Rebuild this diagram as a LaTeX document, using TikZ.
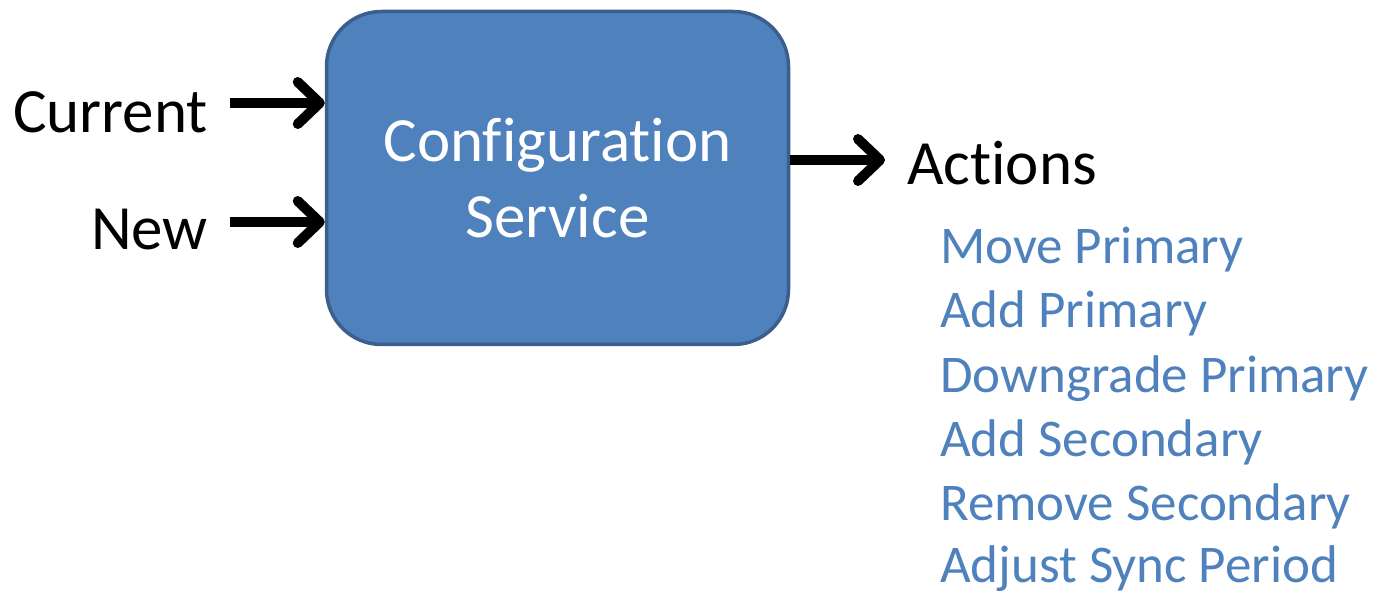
\documentclass[tikz,border=0pt]{standalone}
\usepackage{fontspec}
\setmainfont{Carlito}[Ligatures=NoCommon]
\usetikzlibrary{arrows.meta}
\definecolor{boxfill}{HTML}{4F81BD}
\definecolor{boxline}{HTML}{3A5F8C}
\definecolor{actblue}{HTML}{4F81BD}
\tikzset{
  svcbox/.style={draw=boxline, line width=3.5pt, fill=boxfill, rounded corners=55pt,
    minimum width=462pt, minimum height=333pt, inner sep=0pt,
    text=white, align=center, font=\fontsize{63}{76}\selectfont},
  inlabel/.style={anchor=base east, inner sep=0pt, font=\fontsize{63}{76}\selectfont},
  outlabel/.style={anchor=base west, inner sep=0pt, font=\fontsize{63}{76}\selectfont},
  actitem/.style={anchor=base west, inner sep=0pt, text=actblue, font=\fontsize{53}{64}\selectfont},
  flow/.style={line width=10pt, -{Straight Barb[length=22pt, width=42pt, round]}}
}
\begin{document}
\begin{tikzpicture}[x=1pt, y=-1pt]
  \useasboundingbox (0,0) rectangle (1384,593);
  \node[svcbox] (svc) at (557.5,178) {Configuration\\Service};
  \node[inlabel] (cur) at (208,133) {Current};
  \node[inlabel] (new) at (208,250) {New};
  \node[outlabel] (act) at (907,185) {Actions};
  \coordinate (curA) at (230,103);
  \coordinate (newA) at (230,222);
  \coordinate (actB) at (885,160);
  \draw[flow] (curA) -- (svc.west |- curA);
  \draw[flow] (newA) -- (svc.west |- newA);
  \draw[flow] (svc.east |- actB) -- (actB);
  \node[actitem] (a1) at (940,264) {Move Primary};
  \node[actitem] (a2) at (940,328) {Add Primary};
  \node[actitem] (a3) at (940,392) {Downgrade Primary};
  \node[actitem] (a4) at (940,456) {Add Secondary};
  \node[actitem] (a5) at (940,520) {Remove Secondary};
  \node[actitem] (a6) at (940,582) {Adjust Sync Period};
\end{tikzpicture}
\end{document}
